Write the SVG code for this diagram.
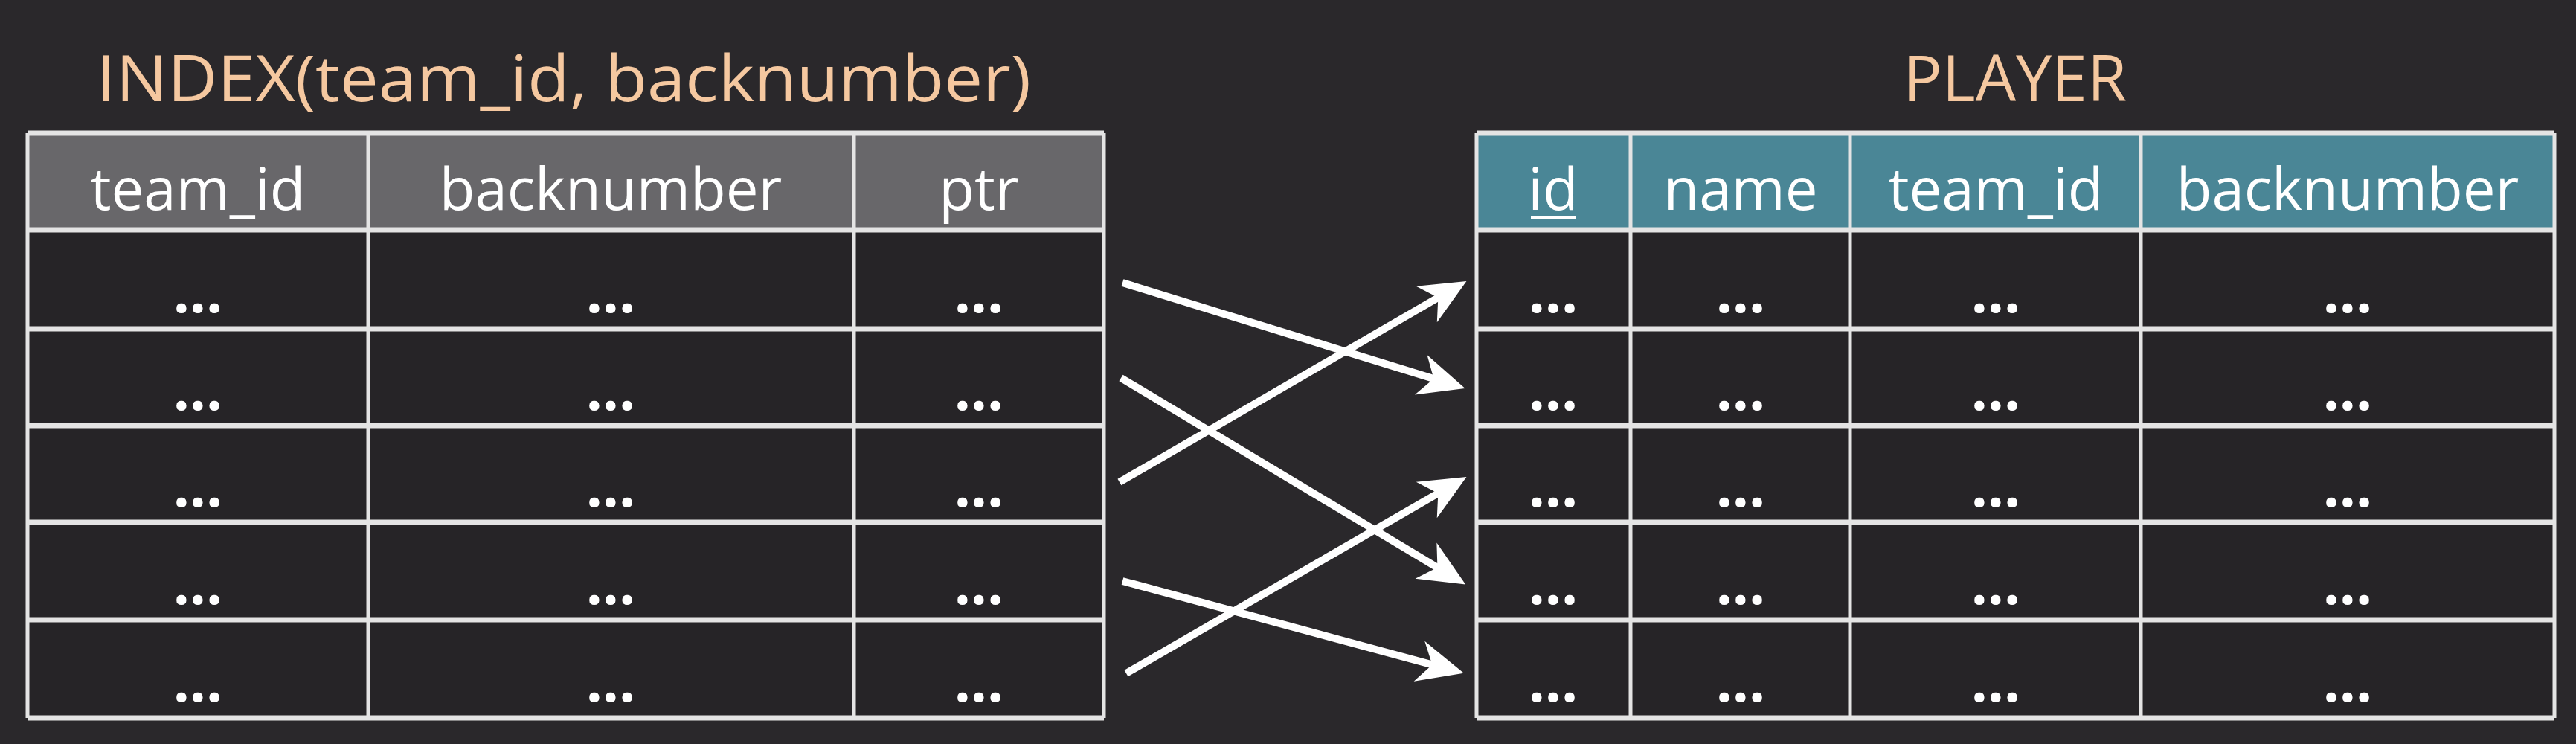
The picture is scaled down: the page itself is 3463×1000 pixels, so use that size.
<svg xmlns="http://www.w3.org/2000/svg" width="3463" height="1000" viewBox="0 0 3463 1000">
<style>
.title{font-family:"Open Sans","Liberation Sans",sans-serif;font-size:86px;font-weight:500;fill:#f5c8a0;text-anchor:middle}
.hd{font-family:"Open Sans","Liberation Sans",sans-serif;font-size:78px;fill:#ffffff;text-anchor:middle}
.dot{font-family:"Open Sans","Liberation Sans",sans-serif;font-size:78px;fill:#ffffff;text-anchor:middle;font-weight:bold}
.grid{stroke:#e4e4e4;fill:none}
.hl{stroke-width:7}
.vl{stroke-width:5}
.arrow{stroke:#ffffff;stroke-width:10;fill:none;marker-end:url(#ah)}
</style>
<defs>
<marker id="ah" markerUnits="userSpaceOnUse" viewBox="-40 -40 90 80" markerWidth="90" markerHeight="80" refX="0" refY="0" orient="auto">
<path d="M 34 0 L -28 -28 L -10 0 L -28 28 Z" fill="#ffffff"/>
</marker>
</defs>
<rect x="0" y="0" width="3463" height="1000" fill="#2a282b"/>

<g id="index-table">
<text class="title" x="758" y="136" textLength="1256" lengthAdjust="spacingAndGlyphs">INDEX(team_id, backnumber)</text>
<rect x="37" y="179" width="1447" height="130" fill="#68676a"/>
<rect x="37" y="309" width="1447" height="656" fill="#262427"/>
<g class="grid">
<path class="hl" d="M37 179H1484M37 309H1484M37 442H1484M37 572H1484M37 702H1484M37 833H1484M37 965H1484"/>
<path class="vl" d="M37 179V965M495 179V965M1148 179V965M1484 179V965"/>
</g>
<text class="hd" x="266" y="282">team_id</text>
<text class="hd" x="821" y="282">backnumber</text>
<text class="hd" x="1316" y="282">ptr</text>
<g>
<text class="dot" x="266" y="420">...</text><text class="dot" x="821" y="420">...</text><text class="dot" x="1316" y="420">...</text>
<text class="dot" x="266" y="551">...</text><text class="dot" x="821" y="551">...</text><text class="dot" x="1316" y="551">...</text>
<text class="dot" x="266" y="681">...</text><text class="dot" x="821" y="681">...</text><text class="dot" x="1316" y="681">...</text>
<text class="dot" x="266" y="812">...</text><text class="dot" x="821" y="812">...</text><text class="dot" x="1316" y="812">...</text>
<text class="dot" x="266" y="943">...</text><text class="dot" x="821" y="943">...</text><text class="dot" x="1316" y="943">...</text>
</g>
</g>

<g id="player-table">
<text class="title" x="2709" y="136">PLAYER</text>
<rect x="1985" y="179" width="1449" height="130" fill="#4a8696"/>
<rect x="1985" y="309" width="1449" height="656" fill="#262427"/>
<g class="grid">
<path class="hl" d="M1985 179H3434M1985 309H3434M1985 442H3434M1985 572H3434M1985 702H3434M1985 833H3434M1985 965H3434"/>
<path class="vl" d="M1985 179V965M2192 179V965M2487 179V965M2878 179V965M3434 179V965"/>
</g>
<text class="hd" x="2088" y="282">id</text>
<rect x="2058" y="290" width="60" height="5" fill="#ffffff"/>
<text class="hd" x="2340" y="282">name</text>
<text class="hd" x="2683" y="282">team_id</text>
<text class="hd" x="3156" y="282">backnumber</text>
<g>
<text class="dot" x="2088" y="420">...</text><text class="dot" x="2340" y="420">...</text><text class="dot" x="2683" y="420">...</text><text class="dot" x="3156" y="420">...</text>
<text class="dot" x="2088" y="551">...</text><text class="dot" x="2340" y="551">...</text><text class="dot" x="2683" y="551">...</text><text class="dot" x="3156" y="551">...</text>
<text class="dot" x="2088" y="681">...</text><text class="dot" x="2340" y="681">...</text><text class="dot" x="2683" y="681">...</text><text class="dot" x="3156" y="681">...</text>
<text class="dot" x="2088" y="812">...</text><text class="dot" x="2340" y="812">...</text><text class="dot" x="2683" y="812">...</text><text class="dot" x="3156" y="812">...</text>
<text class="dot" x="2088" y="943">...</text><text class="dot" x="2340" y="943">...</text><text class="dot" x="2683" y="943">...</text><text class="dot" x="3156" y="943">...</text>
</g>
</g>

<g id="connectors">
<line class="arrow" x1="1509" y1="380" x2="1937" y2="512"/>
<line class="arrow" x1="1507" y1="508" x2="1941" y2="768"/>
<line class="arrow" x1="1505" y1="648" x2="1942" y2="395"/>
<line class="arrow" x1="1509" y1="781" x2="1935" y2="896"/>
<line class="arrow" x1="1514" y1="905" x2="1942" y2="658"/>
</g>
</svg>
